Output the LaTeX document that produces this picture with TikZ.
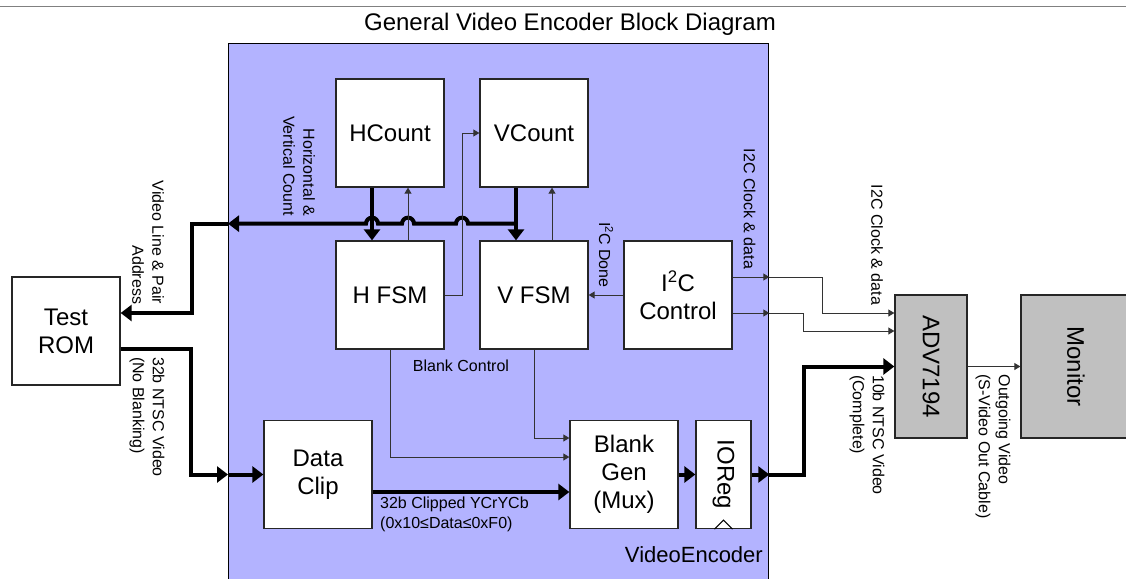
\documentclass[tikz,border=0pt]{standalone}
\usepackage{fontspec}
\setmainfont{Liberation Sans}
\usepackage{graphicx}
\usepackage{tikz}
\usetikzlibrary{arrows.meta, positioning, calc}

\definecolor{encblue}{RGB}{179,179,255}
\definecolor{chipgray}{RGB}{192,192,192}
\newcommand{\boxfont}{\fontsize{24pt}{28pt}\selectfont}
\newcommand{\lblfont}{\fontsize{16pt}{20pt}\selectfont}
\newcommand{\vtext}[1]{\rotatebox{-90}{#1}}

\begin{document}
\begin{tikzpicture}[x=1pt, y=-1pt,
  blk/.style={draw=black!85, line width=1.3pt, fill=white, minimum width=108pt,
    minimum height=108pt, inner sep=0pt, align=center, font=\boxfont},
  chip/.style={blk, fill=chipgray},
  lbl/.style={font=\lblfont, inner sep=0pt},
  vlbl/.style={lbl, rotate=-90},
  bus/.style={line width=4pt},
  wire/.style={line width=1pt, draw=black!80},
  bigarrow/.style={-{Triangle[length=11pt, width=16pt]}},
  smallarrow/.style={-{Triangle[length=6pt, width=7pt]}}]
\useasboundingbox (0,0) rectangle (1126,578);

% title
\draw[gray, line width=1pt] (0,7) -- (1126,7);
\node[font=\boxfont, anchor=base] (title) at (570,31) {General Video Encoder Block Diagram};

% encoder
\node[draw, line width=1.3pt, fill=encblue, anchor=north west, minimum width=540pt,
  minimum height=560pt, inner sep=0pt] (enc) at (228,43) {};
\node[font=\fontsize{22pt}{26pt}\selectfont, anchor=base east, inner sep=0pt] (enclbl) at (763,562) {VideoEncoder};

% blocks
\node[blk] (hcount) at (390,133) {HCount};
\node[blk] (vcount) at (534,133) {VCount};
\node[blk] (hfsm) at (390,295) {H FSM};
\node[blk] (vfsm) at (534,295) {V FSM};
\node[blk] (i2c) at (678,295) {I\textsuperscript{2}C\\Control};
\node[blk] (rom) at (66,331) {Test\\ROM};
\node[blk] (clip) at (318,474.5) {Data\\Clip};
\node[blk] (blank) at (624,474.5) {Blank\\Gen\\(Mux)};
\node[blk, minimum width=55pt] (ioreg) at (723.5,474.5) {\vtext{IOReg}};
\draw[line width=1pt] ($(ioreg.south)+(-9,0)$) -- ++(9,-9) -- ++(9,9);
\node[chip, minimum width=72pt, minimum height=143pt] (adv) at (931,366.5) {\vtext{ADV7194}};
\node[chip, minimum width=110pt, minimum height=143pt] (mon) at (1076,366.5) {\vtext{Monitor}};

% count bus
\draw[bus, bigarrow] ($(hcount.south)+(-18,0)$) -- ($(hfsm.north)+(-18,0)$);
\draw[bus, bigarrow] ($(vcount.south)+(-18,0)$) -- ($(vfsm.north)+(-18,0)$);
\coordinate (busjoin) at ($(vcount.south)+(-18,36)$);
\draw[bus, bigarrow] (busjoin) -- ++(-48,0) arc[start angle=0, end angle=180, radius=6pt]
  -- ++(-42,0) arc[start angle=0, end angle=180, radius=6pt]
  -- ++(-24,0) arc[start angle=0, end angle=180, radius=6pt]
  -- (busjoin -| enc.west);
\draw[bus, bigarrow] (busjoin -| enc.west) -- ($(busjoin -| enc.west)+(-36,0)$) |- ($(rom.east)+(0,-18)$);

% video path
\draw[bus, bigarrow] ($(rom.east)+(0,18)$) -| ($(enc.west |- clip.west)+(-37,0)$) -- (enc.west |- clip.west);
\draw[bus, bigarrow] (enc.west |- clip.west) -- (clip.west);
\draw[bus, bigarrow] ($(clip.east)+(0,17.5)$) -- ($(blank.west)+(0,17.5)$);
\draw[bus, bigarrow] (blank.east) -- (ioreg.west);
\draw[bus, bigarrow] (ioreg.east) -- (ioreg.east -| enc.east);
\draw[bus, bigarrow] (ioreg.east -| enc.east) -| ($(adv.west)+(-90,0)$) -- (adv.west);

% control wires
\draw[wire, smallarrow] ($(hfsm.north)+(18,0)$) -- ($(hcount.south)+(18,0)$);
\draw[wire, smallarrow] ($(vfsm.north)+(18,0)$) -- ($(vcount.south)+(18,0)$);
\draw[wire, smallarrow] (hfsm.east) -- ++(18,0) |- (vcount.west);
\draw[wire, smallarrow] (i2c.west) -- (vfsm.east);
\draw[wire, smallarrow] (hfsm.south) |- ($(blank.west)+(0,-17.5)$);
\draw[wire, smallarrow] (vfsm.south) |- ($(blank.west)+(0,-36.5)$);
\draw[wire, smallarrow] ($(i2c.east)+(0,-18)$) -- ($(i2c.east -| enc.east)+(0,-18)$);
\draw[wire, smallarrow] ($(i2c.east)+(0,18)$) -- ($(i2c.east -| enc.east)+(0,18)$);
\draw[wire, smallarrow] ($(i2c.east -| enc.east)+(0,-18)$) -| ($(adv.west)+(-72,-53.5)$) -- ($(adv.west)+(0,-53.5)$);
\draw[wire, smallarrow] ($(i2c.east -| enc.east)+(0,18)$) -| ($(adv.west)+(-91,-35.5)$) -- ($(adv.west)+(0,-35.5)$);
\draw[wire, smallarrow] (adv.east) -- (mon.west);

% labels
\node[vlbl, align=right] (hvlbl) at (299,166) {Horizontal \&\\Vertical Count};
\node[vlbl, align=right] (addrlbl) at (148,242.5) {Video Line \& Pair\\Address};
\node[vlbl, align=left] (romlbl) at (147,417) {32b NTSC Video\\(No Blanking)};
\node[vlbl, align=left] (outlbl) at (867,435) {10b NTSC Video\\(Complete)};
\node[vlbl, align=left] (monlbl) at (993,446.5) {Outgoing Video\\(S-Video Out Cable)};
\node[vlbl] (i2cinlbl) at (749.5,209) {I2C Clock \& data};
\node[vlbl] (i2coutlbl) at (877,245) {I2C Clock \& data};
\node[vlbl] (donelbl) at (606,255) {I\textsuperscript{2}C Done};
\node[lbl] (blanklbl) at (461,366) {Blank Control};
\node[lbl, anchor=north west, align=left] (cliplbl) at (380,497) {32b Clipped YCrYCb\\(0x10≤Data≤0xF0)};
\end{tikzpicture}
\end{document}
